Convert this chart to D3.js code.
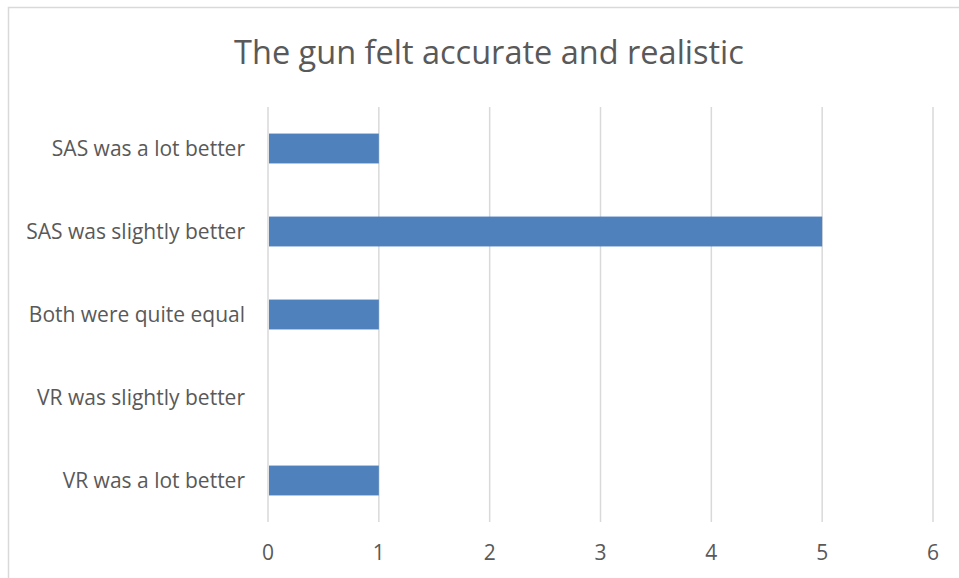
<!DOCTYPE html>
<html>
<head>
<meta charset="utf-8">
<script src="https://cdn.jsdelivr.net/npm/d3@7"></script>
<style>
  body { margin: 0; background: #fff; }
  text { font-family: "Open Sans", sans-serif; fill: #595959; }
</style>
</head>
<body>
<svg id="chart"></svg>
<script>
// horizontal bar chart

var categories = ["SAS was a lot better", "SAS was slightly better", "Both were quite equal", "VR was slightly better", "VR was a lot better"]
var values = [1, 5, 1, 0, 1]
var xTicks = [0, 1, 2, 3, 4, 5, 6]
var title = "The gun felt accurate and realistic"

var width = 959, height = 578
var margin = { left: 268, right: 26, top: 107, bottom: 56 }

var svg = d3.select('#chart')
    .attr('width', width)
    .attr('height', height)

// chart area border (right and bottom run off the picture)
svg.append('rect')
    .attr('x', 8.5)
    .attr('y', 7.5)
    .attr('width', 970)
    .attr('height', 600)
    .attr('fill', 'none')
    .attr('stroke', '#d9d9d9')
    .attr('stroke-width', 1.5)

svg.append('text')
    .attr('x', 489)
    .attr('y', 64)
    .attr('text-anchor', 'middle')
    .style('font-size', '32.5px')
    .text(title)

var xScale = d3.scaleLinear()
    .domain([0, 6])
    .range([margin.left, width - margin.right])

var yScale = d3.scaleBand()
    .domain(categories)
    .range([margin.top, height - margin.bottom])
    .paddingInner(0.64)
    .paddingOuter(0.32)

// gridlines
svg.append('g')
    .selectAll('line')
    .data(xTicks)
    .join('line')
    .attr('x1', d => xScale(d))
    .attr('x2', d => xScale(d))
    .attr('y1', margin.top)
    .attr('y2', height - margin.bottom)
    .attr('stroke', '#d9d9d9')
    .attr('stroke-width', 1.5)

svg.append('g')
    .selectAll('rect')
    .data(values)
    .join('rect')
    .attr('x', xScale(0) + 1)
    .attr('y', (d, i) => yScale(categories[i]))
    .attr('width', d => Math.max(0, xScale(d) - xScale(0) - 1))
    .attr('height', yScale.bandwidth())
    .attr('fill', '#4f81bd')

// x tick labels
svg.append('g')
    .selectAll('text')
    .data(xTicks)
    .join('text')
    .attr('x', d => xScale(d))
    .attr('y', 560)
    .attr('text-anchor', 'middle')
    .style('font-size', '21px')
    .text(d => d)

// category labels
svg.append('g')
    .selectAll('text')
    .data(categories)
    .join('text')
    .attr('x', 245)
    .attr('y', d => yScale(d) + yScale.bandwidth() / 2)
    .attr('dy', '0.35em')
    .attr('text-anchor', 'end')
    .style('font-size', '21px')
    .text(d => d)
</script>
</body>
</html>
